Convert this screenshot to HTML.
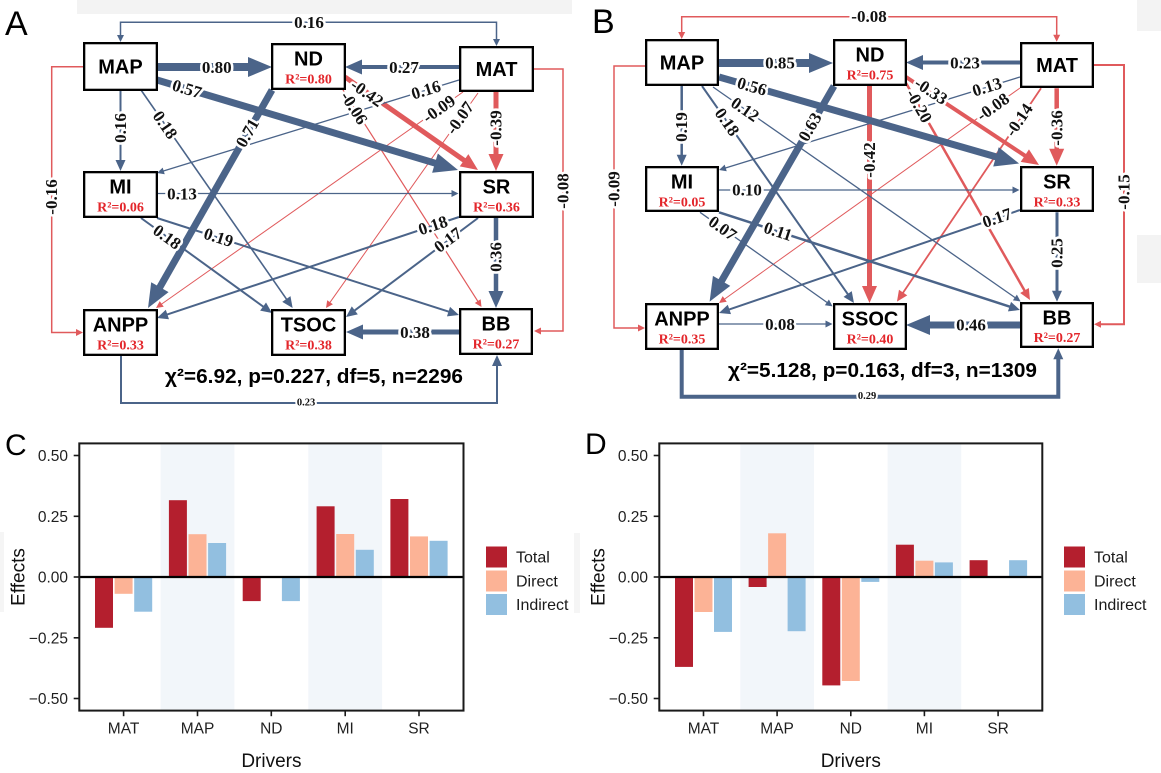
<!DOCTYPE html>
<html><head><meta charset="utf-8"><style>
html,body{margin:0;padding:0;background:#fff}
svg{display:block}
.c{font:bold 17px "Liberation Serif",serif;fill:#111;stroke:#fff;stroke-width:5;paint-order:stroke;stroke-linejoin:round;text-anchor:middle;dominant-baseline:central}
.cs{font:bold 10.5px "Liberation Serif",serif;fill:#111;stroke:#fff;stroke-width:4;paint-order:stroke;text-anchor:middle;dominant-baseline:central}
.bl{font:bold 20px "Liberation Sans",Arial,sans-serif;fill:#000;text-anchor:middle}
.r2{font:bold 14px "Liberation Serif",serif;fill:#e3262b;text-anchor:middle}
.chi{font:bold 20px "Liberation Sans",Arial,sans-serif;fill:#000;text-anchor:middle}
.box{fill:#fff;stroke:#000;stroke-width:2.3}
.bx line,.bx path{stroke:#4b6489;fill:none}
.rx line,.rx path{stroke:#e05a5c;fill:none}
.tk{font:15.5px "Liberation Sans",Arial,sans-serif;fill:#1f1f1f;text-anchor:end}
.xt{font:15.5px "Liberation Sans",Arial,sans-serif;fill:#1f1f1f;text-anchor:middle}
.ax{font:19px "Liberation Sans",Arial,sans-serif;fill:#111;text-anchor:middle}
.lg{font:16px "Liberation Sans",Arial,sans-serif;fill:#1a1a1a}
.pl{font:34px "Liberation Sans",Arial,sans-serif;fill:#000}
.pl2{font:30px "Liberation Sans",Arial,sans-serif;fill:#000}
</style></head><body>
<svg width="1161" height="773" viewBox="0 0 1161 773" xmlns="http://www.w3.org/2000/svg">
<defs>
<marker id="bT" markerUnits="userSpaceOnUse" markerWidth="10" markerHeight="10" viewBox="0 -5 10 10" refX="2" refY="0" orient="auto" overflow="visible"><path d="M0,-3.5L7,0L0,3.5z" fill="#4b6489"/></marker>
<marker id="rT" markerUnits="userSpaceOnUse" markerWidth="10" markerHeight="10" viewBox="0 -5 10 10" refX="2" refY="0" orient="auto" overflow="visible"><path d="M0,-3.5L7,0L0,3.5z" fill="#e05a5c"/></marker>
<marker id="bT2" markerUnits="userSpaceOnUse" markerWidth="10" markerHeight="10" viewBox="0 -5 10 10" refX="2" refY="0" orient="auto-start-reverse" overflow="visible"><path d="M0,-3.5L7,0L0,3.5z" fill="#4b6489"/></marker>
<marker id="rT2" markerUnits="userSpaceOnUse" markerWidth="10" markerHeight="10" viewBox="0 -5 10 10" refX="2" refY="0" orient="auto-start-reverse" overflow="visible"><path d="M0,-3.5L7,0L0,3.5z" fill="#e05a5c"/></marker>
<marker id="bS" markerUnits="userSpaceOnUse" markerWidth="12" markerHeight="12" viewBox="0 -6 12 12" refX="2" refY="0" orient="auto" overflow="visible"><path d="M0,-5L11,0L0,5z" fill="#4b6489"/></marker>
<marker id="rS" markerUnits="userSpaceOnUse" markerWidth="12" markerHeight="12" viewBox="0 -6 12 12" refX="2" refY="0" orient="auto" overflow="visible"><path d="M0,-5L11,0L0,5z" fill="#e05a5c"/></marker>
<marker id="bM" markerUnits="userSpaceOnUse" markerWidth="18" markerHeight="16" viewBox="0 -8 18 16" refX="2" refY="0" orient="auto" overflow="visible"><path d="M0,-7.5L17,0L0,7.5z" fill="#4b6489"/></marker>
<marker id="rM" markerUnits="userSpaceOnUse" markerWidth="18" markerHeight="16" viewBox="0 -8 18 16" refX="2" refY="0" orient="auto" overflow="visible"><path d="M0,-7.5L17,0L0,7.5z" fill="#e05a5c"/></marker>
<marker id="bB" markerUnits="userSpaceOnUse" markerWidth="26" markerHeight="22" viewBox="0 -11 26 22" refX="2" refY="0" orient="auto" overflow="visible"><path d="M0,-10L24,0L0,10z" fill="#4b6489"/></marker>
</defs>

<rect width="1161" height="773" fill="#fff"/>
<!-- faint background artifacts -->
<rect x="77" y="0" width="495" height="14" fill="#f3f3f3"/>
<rect x="1137" y="0" width="24" height="31" fill="#f3f3f3"/>
<rect x="1137" y="235" width="24" height="48" fill="#f3f3f3"/>
<rect x="574" y="533" width="6" height="80" fill="#f5f5f5"/>
<rect x="0" y="532" width="4" height="80" fill="#f5f5f5"/>

<!-- ================= PANEL A ================= -->
<text class="pl" x="5" y="35">A</text>
<g class="rx">
<line x1="343" y1="90" x2="478.8" y2="302.8" stroke-width="1.2" marker-end="url(#rT)"/>
<line x1="463" y1="92" x2="160.1" y2="305.1" stroke-width="1" marker-end="url(#rT)"/>
<line x1="478" y1="93" x2="328.9" y2="303.9" stroke-width="1" marker-end="url(#rT)"/>
<path d="M83,66.7 H51.7 V332.5 H78" stroke-width="1.5" marker-end="url(#rT)"/>
<path d="M534,69 H563 V331 H539" stroke-width="1.5" marker-end="url(#rT)"/>
<line x1="345" y1="77" x2="465.7" y2="161.4" stroke-width="5" marker-end="url(#rM)"/>
<line x1="496" y1="92" x2="496" y2="156" stroke-width="5" marker-end="url(#rM)"/>
</g>
<g class="bx">
<path d="M120.5,37 V22.3 H496.5 V41" stroke-width="1.5" marker-start="url(#bT2)" marker-end="url(#bT2)"/>
<path d="M121,356 V403 H497 V364" stroke-width="2" marker-end="url(#bS)"/>
<line x1="459" y1="80" x2="161.8" y2="171.5" stroke-width="1.3" marker-end="url(#bT)"/>
<line x1="157" y1="193.5" x2="453.5" y2="193.5" stroke-width="1.3" marker-end="url(#bT)"/>
<line x1="120.5" y1="91" x2="120.5" y2="162" stroke-width="2" marker-end="url(#bS)"/>
<line x1="141" y1="90" x2="287.5" y2="300.6" stroke-width="1.6" marker-end="url(#bS)"/>
<line x1="141" y1="218" x2="264.7" y2="307.7" stroke-width="2" marker-end="url(#bS)"/>
<line x1="157" y1="218" x2="450.4" y2="312.2" stroke-width="2" marker-end="url(#bS)"/>
<line x1="459" y1="217" x2="165.5" y2="315.1" stroke-width="2" marker-end="url(#bS)"/>
<line x1="478" y1="218" x2="353.2" y2="311.6" stroke-width="2" marker-end="url(#bS)"/>
<line x1="496" y1="218" x2="496" y2="293" stroke-width="4.5" marker-end="url(#bM)"/>
<line x1="459" y1="332" x2="361" y2="332" stroke-width="5" marker-end="url(#bM)"/>
<line x1="459" y1="67" x2="360" y2="67" stroke-width="4" marker-end="url(#bM)"/>
<line x1="157" y1="80" x2="436.9" y2="163.7" stroke-width="7" marker-end="url(#bB)"/>
<line x1="272" y1="90" x2="158.9" y2="288.9" stroke-width="7" marker-end="url(#bB)"/>
<line x1="158" y1="67" x2="250" y2="67" stroke-width="8" marker-end="url(#bB)"/>
</g>
<!-- boxes A -->
<rect class="box" x="84.15" y="43.15" width="72.7" height="46.7"/>
<rect class="box" x="272.15" y="44.15" width="72.7" height="44.7"/>
<rect class="box" x="460.15" y="47.15" width="72.7" height="43.7"/>
<rect class="box" x="84.15" y="172.15" width="72.7" height="44.7"/>
<rect class="box" x="460.15" y="172.15" width="72.7" height="44.7"/>
<rect class="box" x="84.15" y="310.15" width="72.7" height="44.7"/>
<rect class="box" x="272.15" y="310.15" width="72.7" height="44.7"/>
<rect class="box" x="460.15" y="309.15" width="71.7" height="44.7"/>
<text class="bl" x="120.5" y="73.5">MAP</text>
<text class="bl" x="308.5" y="65.5">ND</text><text class="r2" x="308.5" y="83.5">R²=0.80</text>
<text class="bl" x="496.5" y="76">MAT</text>
<text class="bl" x="120.5" y="193.5">MI</text><text class="r2" x="120.5" y="211.5">R²=0.06</text>
<text class="bl" x="496.5" y="193.5">SR</text><text class="r2" x="496.5" y="211.5">R²=0.36</text>
<text class="bl" x="120.5" y="331.5">ANPP</text><text class="r2" x="120.5" y="349.5">R²=0.33</text>
<text class="bl" x="308.5" y="331.5">TSOC</text><text class="r2" x="308.5" y="349.5">R²=0.38</text>
<text class="bl" x="496" y="330.5">BB</text><text class="r2" x="496" y="348.5">R²=0.27</text>
<!-- labels A -->
<text class="c" x="216.7" y="67.5">0.80</text>
<text class="c" x="404" y="67.5">0.27</text>
<text class="c" transform="translate(187,89) rotate(16.6)">0.57</text>
<text class="c" transform="translate(247.5,133) rotate(-60.4)">0.71</text>
<text class="c" transform="translate(367,93) rotate(35)">-0.42</text>
<text class="c" transform="translate(354,108) rotate(57.5)">-0.06</text>
<text class="c" transform="translate(496,128) rotate(-90)">-0.39</text>
<text class="c" transform="translate(426,90) rotate(-17.1)">0.16</text>
<text class="c" transform="translate(439,109) rotate(-35.1)">-0.09</text>
<text class="c" transform="translate(460,118) rotate(-54.7)">-0.07</text>
<text class="c" transform="translate(120.5,128) rotate(-90)">0.16</text>
<text class="c" transform="translate(165,125) rotate(55.2)">0.18</text>
<text class="c" x="182" y="194">0.13</text>
<text class="c" transform="translate(167,237) rotate(36)">0.18</text>
<text class="c" transform="translate(218.5,237.5) rotate(17.8)">0.19</text>
<text class="c" transform="translate(433,225.5) rotate(-18.5)">0.18</text>
<text class="c" transform="translate(448,240) rotate(-36.9)">0.17</text>
<text class="c" transform="translate(496,257) rotate(-90)">0.36</text>
<text class="c" x="415" y="332.5">0.38</text>
<text class="c" x="309" y="22.3">0.16</text>
<text class="c" transform="translate(51.7,197) rotate(-90)">-0.16</text>
<text class="c" transform="translate(563,191) rotate(-90)">-0.08</text>
<text class="cs" x="306" y="403">0.23</text>
<text class="chi" x="314" y="383" textLength="298" lengthAdjust="spacingAndGlyphs">χ²=6.92, p=0.227, df=5, n=2296</text>

<!-- ================= PANEL B ================= -->
<text class="pl" x="592" y="33">B</text>
<g class="rx">
<line x1="1020" y1="88" x2="723.1" y2="300.1" stroke-width="1" marker-end="url(#rT)"/>
<line x1="1041" y1="88.3" x2="902" y2="294.2" stroke-width="1.8" marker-end="url(#rS)"/>
<line x1="906" y1="83" x2="1025.5" y2="292.2" stroke-width="2.5" marker-end="url(#rS)"/>
<path d="M681.7,34 V16.7 H1056.7 V36.7" stroke-width="1.5" marker-start="url(#rT2)" marker-end="url(#rT2)"/>
<path d="M645,66 H614 V328 H640" stroke-width="1.5" marker-end="url(#rT)"/>
<path d="M1094,65 H1124 V324.3 H1099" stroke-width="2" marker-end="url(#rT)"/>
<line x1="906" y1="77" x2="1026.5" y2="156.7" stroke-width="4" marker-end="url(#rM)"/>
<line x1="869.5" y1="86" x2="869.5" y2="288" stroke-width="5" marker-end="url(#rM)"/>
<line x1="1056.7" y1="88.3" x2="1056.7" y2="150.7" stroke-width="4.5" marker-end="url(#rM)"/>
</g>
<g class="bx">
<path d="M681.7,350 V396.7 H1058.3 V357.3" stroke-width="4" marker-end="url(#bS)"/>
<line x1="1020" y1="77" x2="723.8" y2="168.5" stroke-width="1.3" marker-end="url(#bT)"/>
<line x1="713" y1="87" x2="1016.5" y2="298.6" stroke-width="1.3" marker-end="url(#bT)"/>
<line x1="719" y1="190" x2="1014.5" y2="190" stroke-width="1.3" marker-end="url(#bT)"/>
<line x1="700" y1="212.3" x2="828.5" y2="303.5" stroke-width="1.3" marker-end="url(#bT)"/>
<line x1="719" y1="324" x2="827.5" y2="324" stroke-width="1.3" marker-end="url(#bT)"/>
<line x1="681.7" y1="86" x2="681.7" y2="156.7" stroke-width="2.5" marker-end="url(#bS)"/>
<line x1="702" y1="86" x2="848.8" y2="295.6" stroke-width="2" marker-end="url(#bS)"/>
<line x1="719" y1="212.3" x2="1011.4" y2="307.2" stroke-width="2.5" marker-end="url(#bS)"/>
<line x1="1020" y1="210" x2="727.5" y2="310.1" stroke-width="2" marker-end="url(#bS)"/>
<line x1="1057" y1="212.3" x2="1057" y2="292.7" stroke-width="3" marker-end="url(#bS)"/>
<line x1="1020" y1="62.5" x2="921" y2="62.5" stroke-width="4" marker-end="url(#bM)"/>
<line x1="719" y1="77" x2="997.9" y2="157.4" stroke-width="7" marker-end="url(#bB)"/>
<line x1="834" y1="86" x2="720.6" y2="282.6" stroke-width="7" marker-end="url(#bB)"/>
<line x1="719" y1="63" x2="811" y2="63" stroke-width="8" marker-end="url(#bB)"/>
<line x1="1020" y1="325" x2="928" y2="325" stroke-width="7" marker-end="url(#bB)"/>
</g>
<!-- boxes B -->
<rect class="box" x="646.15" y="40.15" width="71.7" height="44.7"/>
<rect class="box" x="834.15" y="40.15" width="71.7" height="44.7"/>
<rect class="box" x="1021.15" y="43.15" width="71.7" height="43.7"/>
<rect class="box" x="646.15" y="167.15" width="71.7" height="43.7"/>
<rect class="box" x="1021.15" y="167.15" width="71.7" height="43.7"/>
<rect class="box" x="646.15" y="304.15" width="71.7" height="44.7"/>
<rect class="box" x="834.15" y="304.15" width="71.7" height="44.7"/>
<rect class="box" x="1021.15" y="303.15" width="71.7" height="43.7"/>
<text class="bl" x="682" y="69.5">MAP</text>
<text class="bl" x="870" y="61.5">ND</text><text class="r2" x="870" y="79.5">R²=0.75</text>
<text class="bl" x="1057" y="72">MAT</text>
<text class="bl" x="682" y="188.5">MI</text><text class="r2" x="682" y="206.5">R²=0.05</text>
<text class="bl" x="1057" y="188.5">SR</text><text class="r2" x="1057" y="206.5">R²=0.33</text>
<text class="bl" x="682" y="325.5">ANPP</text><text class="r2" x="682" y="343.5">R²=0.35</text>
<text class="bl" x="870" y="325.5">SSOC</text><text class="r2" x="870" y="343.5">R²=0.40</text>
<text class="bl" x="1057" y="324.3">BB</text><text class="r2" x="1057" y="342">R²=0.27</text>
<!-- labels B -->
<text class="c" x="780" y="63">0.85</text>
<text class="c" x="965" y="63">0.23</text>
<text class="c" transform="translate(752,86.5) rotate(16.1)">0.56</text>
<text class="c" transform="translate(810,127) rotate(-60)">0.63</text>
<text class="c" transform="translate(931,91) rotate(33.5)">-0.33</text>
<text class="c" transform="translate(869.5,160) rotate(-90)">-0.42</text>
<text class="c" transform="translate(919,106) rotate(60.3)">-0.20</text>
<text class="c" transform="translate(1057,128) rotate(-90)">-0.36</text>
<text class="c" transform="translate(987,87) rotate(-17.2)">0.13</text>
<text class="c" transform="translate(993,107) rotate(-35.5)">-0.08</text>
<text class="c" transform="translate(1019,120) rotate(-56)">-0.14</text>
<text class="c" transform="translate(681.7,127) rotate(-90)">0.19</text>
<text class="c" transform="translate(727,122) rotate(55)">0.18</text>
<text class="c" transform="translate(745,109.5) rotate(34.9)">0.12</text>
<text class="c" x="747" y="190">0.10</text>
<text class="c" transform="translate(722.6,228.3) rotate(35.4)">0.07</text>
<text class="c" transform="translate(778,231.5) rotate(18)">0.11</text>
<text class="c" transform="translate(997,218) rotate(-18.9)">0.17</text>
<text class="c" transform="translate(1057,253) rotate(-90)">0.25</text>
<text class="c" x="780" y="324.5">0.08</text>
<text class="c" x="971" y="325">0.46</text>
<text class="c" x="869" y="16.7">-0.08</text>
<text class="c" transform="translate(614,189) rotate(-90)">-0.09</text>
<text class="c" transform="translate(1124,192) rotate(-90)">-0.15</text>
<text class="cs" x="867" y="396.7">0.29</text>
<text class="chi" x="882.5" y="377" textLength="309" lengthAdjust="spacingAndGlyphs">χ²=5.128, p=0.163, df=3, n=1309</text>

<!-- ================= PANEL C ================= -->
<text class="pl2" x="5" y="455">C</text>
<rect x="160.6" y="443.4" width="73.8" height="267.2" fill="#f2f6fa"/>
<rect x="308.3" y="443.4" width="73.8" height="267.2" fill="#f2f6fa"/>
<g>
<rect x="95.0" y="577" width="18" height="50.8" fill="#b41f2e"/>
<rect x="114.6" y="577" width="18" height="16.8" fill="#fcb396"/>
<rect x="134.2" y="577" width="18" height="34.7" fill="#92bfe0"/>
<rect x="168.9" y="500.2" width="18" height="76.8" fill="#b41f2e"/>
<rect x="188.5" y="534.2" width="18" height="42.8" fill="#fcb396"/>
<rect x="208.1" y="543" width="18" height="34" fill="#92bfe0"/>
<rect x="242.7" y="577" width="18" height="24.1" fill="#b41f2e"/>
<rect x="281.9" y="577" width="18" height="24.1" fill="#92bfe0"/>
<rect x="316.6" y="506.3" width="18" height="70.7" fill="#b41f2e"/>
<rect x="336.2" y="534" width="18" height="43" fill="#fcb396"/>
<rect x="355.8" y="549.8" width="18" height="27.2" fill="#92bfe0"/>
<rect x="390.4" y="499" width="18" height="78" fill="#b41f2e"/>
<rect x="410" y="536.4" width="18" height="40.6" fill="#fcb396"/>
<rect x="429.6" y="540.8" width="18" height="36.2" fill="#92bfe0"/>
</g>
<line x1="79.3" y1="577" x2="463.5" y2="577" stroke="#000" stroke-width="2.2"/>
<rect x="79.3" y="443.4" width="384.2" height="267.2" fill="none" stroke="#1a1a1a" stroke-width="2"/>
<g stroke="#1a1a1a" stroke-width="1.6">
<line x1="73.7" y1="455.5" x2="79.3" y2="455.5"/><line x1="73.7" y1="516.3" x2="79.3" y2="516.3"/>
<line x1="73.7" y1="577" x2="79.3" y2="577"/><line x1="73.7" y1="637.8" x2="79.3" y2="637.8"/>
<line x1="73.7" y1="698.5" x2="79.3" y2="698.5"/>
<line x1="123.6" y1="710.6" x2="123.6" y2="716.2"/><line x1="197.5" y1="710.6" x2="197.5" y2="716.2"/>
<line x1="271.3" y1="710.6" x2="271.3" y2="716.2"/><line x1="345.2" y1="710.6" x2="345.2" y2="716.2"/>
<line x1="419" y1="710.6" x2="419" y2="716.2"/>
</g>
<text class="tk" x="68" y="461">0.50</text>
<text class="tk" x="68" y="521.8">0.25</text>
<text class="tk" x="68" y="582.5">0.00</text>
<text class="tk" x="68" y="643.3">−0.25</text>
<text class="tk" x="68" y="704">−0.50</text>
<text class="xt" x="123.6" y="733.5">MAT</text>
<text class="xt" x="197.5" y="733.5">MAP</text>
<text class="xt" x="271.3" y="733.5">ND</text>
<text class="xt" x="345.2" y="733.5">MI</text>
<text class="xt" x="419" y="733.5">SR</text>
<text class="ax" x="271.4" y="767">Drivers</text>
<text class="ax" transform="translate(24.5,577) rotate(-90)">Effects</text>
<rect x="486" y="546.5" width="21" height="21" fill="#b41f2e"/>
<rect x="486" y="570.5" width="21" height="21" fill="#fcb396"/>
<rect x="486" y="594" width="21" height="21" fill="#92bfe0"/>
<text class="lg" x="516" y="562.7">Total</text>
<text class="lg" x="516" y="586.7">Direct</text>
<text class="lg" x="516" y="610.2">Indirect</text>

<!-- ================= PANEL D ================= -->
<text class="pl2" x="585" y="454">D</text>
<rect x="740.3" y="443.4" width="73.7" height="267.2" fill="#f2f6fa"/>
<rect x="887.6" y="443.4" width="73.6" height="267.2" fill="#f2f6fa"/>
<g>
<rect x="675" y="577" width="18" height="89.9" fill="#b41f2e"/>
<rect x="694.5" y="577" width="18" height="35" fill="#fcb396"/>
<rect x="714" y="577" width="18" height="54.9" fill="#92bfe0"/>
<rect x="748.6" y="577" width="18" height="10" fill="#b41f2e"/>
<rect x="768.1" y="533.3" width="18" height="43.7" fill="#fcb396"/>
<rect x="787.6" y="577" width="18" height="54.2" fill="#92bfe0"/>
<rect x="822.3" y="577" width="18" height="108.4" fill="#b41f2e"/>
<rect x="841.8" y="577" width="18" height="104" fill="#fcb396"/>
<rect x="861.3" y="577" width="18" height="4.9" fill="#92bfe0"/>
<rect x="895.9" y="544.7" width="18" height="32.3" fill="#b41f2e"/>
<rect x="915.4" y="560.7" width="18" height="16.3" fill="#fcb396"/>
<rect x="934.9" y="562.4" width="18" height="14.6" fill="#92bfe0"/>
<rect x="969.6" y="560.2" width="18" height="16.8" fill="#b41f2e"/>
<rect x="1009.1" y="560.2" width="18" height="16.8" fill="#92bfe0"/>
</g>
<line x1="659.3" y1="577" x2="1042.3" y2="577" stroke="#000" stroke-width="2.2"/>
<rect x="659.3" y="443.4" width="383" height="267.2" fill="none" stroke="#1a1a1a" stroke-width="2"/>
<g stroke="#1a1a1a" stroke-width="1.6">
<line x1="653.7" y1="455.5" x2="659.3" y2="455.5"/><line x1="653.7" y1="516.3" x2="659.3" y2="516.3"/>
<line x1="653.7" y1="577" x2="659.3" y2="577"/><line x1="653.7" y1="637.8" x2="659.3" y2="637.8"/>
<line x1="653.7" y1="698.5" x2="659.3" y2="698.5"/>
<line x1="703.5" y1="710.6" x2="703.5" y2="716.2"/><line x1="777.1" y1="710.6" x2="777.1" y2="716.2"/>
<line x1="850.8" y1="710.6" x2="850.8" y2="716.2"/><line x1="924.4" y1="710.6" x2="924.4" y2="716.2"/>
<line x1="998.1" y1="710.6" x2="998.1" y2="716.2"/>
</g>
<text class="tk" x="648" y="461">0.50</text>
<text class="tk" x="648" y="521.8">0.25</text>
<text class="tk" x="648" y="582.5">0.00</text>
<text class="tk" x="648" y="643.3">−0.25</text>
<text class="tk" x="648" y="704">−0.50</text>
<text class="xt" x="703.5" y="733.5">MAT</text>
<text class="xt" x="777.1" y="733.5">MAP</text>
<text class="xt" x="850.8" y="733.5">ND</text>
<text class="xt" x="924.4" y="733.5">MI</text>
<text class="xt" x="998.1" y="733.5">SR</text>
<text class="ax" x="850.8" y="767">Drivers</text>
<text class="ax" transform="translate(604.5,577) rotate(-90)">Effects</text>
<rect x="1064" y="546.5" width="21" height="21" fill="#b41f2e"/>
<rect x="1064" y="570.5" width="21" height="21" fill="#fcb396"/>
<rect x="1064" y="594" width="21" height="21" fill="#92bfe0"/>
<text class="lg" x="1094" y="562.7">Total</text>
<text class="lg" x="1094" y="586.7">Direct</text>
<text class="lg" x="1094" y="610.2">Indirect</text>
</svg>
</body></html>
